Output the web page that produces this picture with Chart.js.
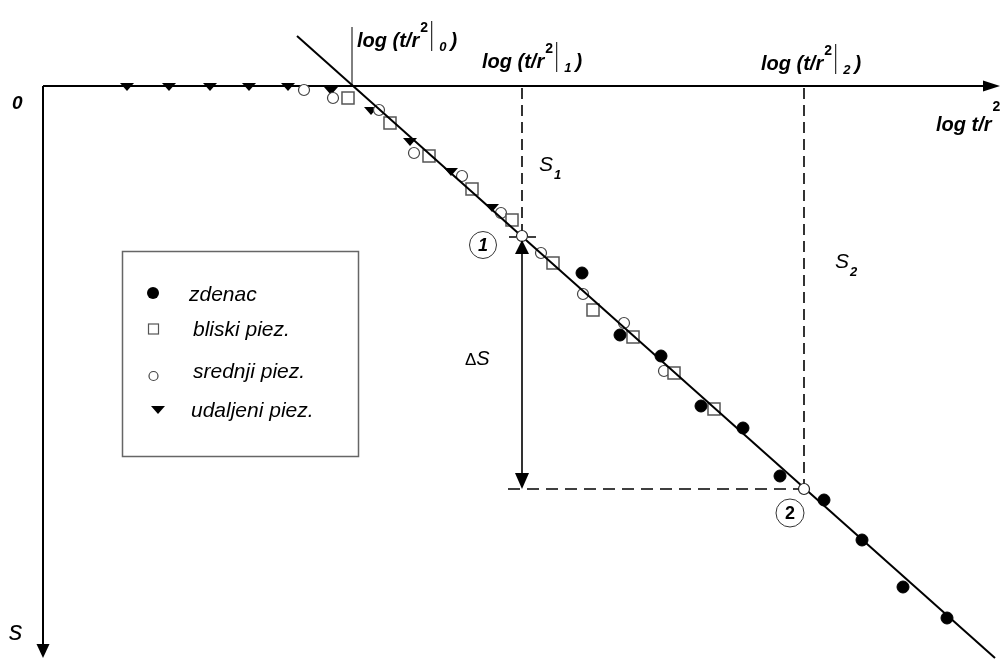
<!DOCTYPE html>
<html><head><meta charset="utf-8">
<script src="https://cdn.jsdelivr.net/npm/chart.js@4"></script>
<style>html,body{margin:0;padding:0;background:#fff;}canvas{display:block}</style>
</head><body>
<canvas id="c" width="1007" height="659"></canvas>
<script>
// ---- data (x = log t/r^2, s = drawdown; arbitrary schematic units) ----
const zdenacX   = [5.39, 5.77, 6.18, 6.58, 7.00, 7.37, 7.81, 8.19, 8.60, 9.04];
const zdenacS   = [1.87, 2.49, 2.70, 3.20, 3.42, 3.90, 4.14, 4.54, 5.01, 5.32];
const bliskiX   = [3.05, 3.47, 3.86, 4.29, 4.69, 5.10, 5.50, 5.90, 6.31, 6.71];
const bliskiS   = [0.12, 0.37, 0.70, 1.03, 1.34, 1.77, 2.24, 2.51, 2.87, 3.23];
const srednjiX  = [2.61, 2.90, 3.36, 3.71, 4.19, 4.58, 4.98, 5.40, 5.81, 6.21];
const srednjiS  = [0.04, 0.12, 0.24, 0.67, 0.90, 1.27, 1.67, 2.08, 2.37, 2.85];
const udaljeniX = [0.84, 1.26, 1.67, 2.06, 2.45, 2.88, 3.28, 3.67, 4.08, 4.49];
const udaljeniS = [0.01, 0.01, 0.01, 0.01, 0.01, 0.05, 0.25, 0.56, 0.86, 1.22];
const seriesNames = ['zdenac', 'bliski piez.', 'srednji piez.', 'udaljeni piez.'];
const fitX = [2.54, 9.52];           // straight-line fit ends
const fitS = [-0.50, 5.72];
const keyX = [3.09, 4.79, 7.61];     // log(t/r2|0), |1, |2
const keyS = [0.00, 1.50, 4.03];     // s at those points
const axisX = [0, 9.57];
const axisS = [0, 5.72];

const FONT = '"Liberation Sans", Arial, sans-serif';
const pts = (xs, ys) => xs.map((x, i) => ({x, y: ys[i]}));

function triMarker(w, h) {
  const c = document.createElement('canvas'); c.width = w; c.height = h;
  const g = c.getContext('2d'); g.fillStyle = '#000';
  g.beginPath(); g.moveTo(0, 0); g.lineTo(w, 0); g.lineTo(w / 2, h); g.closePath(); g.fill();
  return c;
}
const tri = triMarker(14, 8);

const lineDs = (data, dash, width, order) => ({
  type: 'scatter', data, showLine: true, pointRadius: 0, borderColor: '#000',
  borderWidth: width, borderDash: dash, order, clip: false, fill: false
});

const datasets = [
  {label: 'key', data: [{x: keyX[1], y: keyS[1]}, {x: keyX[2], y: keyS[2]}], pointStyle: 'circle',
   pointRadius: 5.5, backgroundColor: '#fff', borderColor: '#222', borderWidth: 1.2, order: -2, clip: false},
  lineDs(pts(fitX, fitS), [], 2, -1),
  {label: seriesNames[0], data: pts(zdenacX, zdenacS), pointStyle: 'circle', pointRadius: 6,
   backgroundColor: '#000', borderColor: '#000', borderWidth: 1, order: 1, clip: false},
  {label: seriesNames[1], data: pts(bliskiX, bliskiS), pointStyle: 'rect', pointRadius: 8.5,
   backgroundColor: '#fff', borderColor: '#555', borderWidth: 1.5, order: 2, clip: false},
  {label: seriesNames[2], data: pts(srednjiX, srednjiS), pointStyle: 'circle', pointRadius: 5.5,
   backgroundColor: '#fff', borderColor: '#444', borderWidth: 1.2, order: 3, clip: false},
  {label: seriesNames[3], data: pts(udaljeniX, udaljeniS), pointStyle: tri, pointRadius: 6,
   order: 4, clip: false},
  // axes
  lineDs([{x: axisX[0], y: 0}, {x: axisX[1] - 0.15, y: 0}], [], 2, 6),
  lineDs([{x: 0, y: axisS[0]}, {x: 0, y: axisS[1] - 0.12}], [], 2, 6),
  // construction lines
  lineDs([{x: keyX[0], y: 0}, {x: keyX[0], y: -0.59}], [], 1, 6),
  lineDs([{x: keyX[1], y: 0.02}, {x: keyX[1], y: keyS[1]}], [11, 6], 1.6, 6),
  lineDs([{x: keyX[2], y: 0.02}, {x: keyX[2], y: keyS[2]}], [11, 6], 1.6, 6),
  lineDs([{x: 4.65, y: keyS[2]}, {x: keyX[2], y: keyS[2]}], [12, 7], 1.6, 6),
  lineDs([{x: keyX[1], y: keyS[1] + 0.15}, {x: keyX[1], y: keyS[2] - 0.12}], [], 1.6, 6)
];

function txt(ctx, s, x, y, font, align) {
  ctx.font = font; ctx.textAlign = align || 'left'; ctx.textBaseline = 'alphabetic';
  ctx.fillText(s, x, y); return ctx.measureText(s).width;
}
function tri2(ctx, x1, y1, x2, y2, x3, y3) {
  ctx.beginPath(); ctx.moveTo(x1, y1); ctx.lineTo(x2, y2); ctx.lineTo(x3, y3); ctx.closePath(); ctx.fill();
}
function logLabel(ctx, x, base, sub) {
  const F = 'bold italic 20px ' + FONT;
  x += txt(ctx, 'log (t/r', x, base, F) + 1;
  txt(ctx, '2', x, base - 15, 'bold 14px ' + FONT);
  x += 11;
  ctx.lineWidth = 1; ctx.beginPath(); ctx.moveTo(x + 0.5, base - 26); ctx.lineTo(x + 0.5, base + 4); ctx.stroke();
  x += 8;
  x += txt(ctx, sub, x, base + 4, 'bold italic 13px ' + FONT) + 4;
  txt(ctx, ')', x, base, F);
}

const deco = {
  id: 'deco',
  afterDatasetsDraw(chart) {
    const ctx = chart.ctx, X = chart.scales.x, Y = chart.scales.y;
    const px = v => X.getPixelForValue(v), py = v => Y.getPixelForValue(v);
    ctx.save();
    ctx.fillStyle = '#000'; ctx.strokeStyle = '#000';
    // axis arrowheads
    const ax = px(axisX[1]), ay = py(0);
    tri2(ctx, ax, ay, ax - 17, ay - 5.5, ax - 17, ay + 5.5);
    const bx = px(0), by = py(axisS[1]);
    tri2(ctx, bx, by, bx - 6.5, by - 14, bx + 6.5, by - 14);
    // delta-s arrow heads
    const dx = px(keyX[1]), t1 = py(keyS[1]) + 4, t2 = py(keyS[2]);
    tri2(ctx, dx, t1, dx - 7, t1 + 14, dx + 7, t1 + 14);
    tri2(ctx, dx, t2, dx - 7, t2 - 16, dx + 7, t2 - 16);
    // crosshair at point 1
    ctx.lineWidth = 1.5;
    ctx.beginPath(); ctx.moveTo(dx - 13, py(keyS[1]) + 1); ctx.lineTo(dx - 6, py(keyS[1]) + 1);
    ctx.moveTo(dx + 6, py(keyS[1]) + 1); ctx.lineTo(dx + 14, py(keyS[1]) + 1); ctx.stroke();

    // axis labels
    txt(ctx, '0', 12, 109, 'bold italic 19px ' + FONT);
    txt(ctx, 's', 9, 640, 'italic 27px ' + FONT);
    let w = txt(ctx, 'log t/r', 936, 131, 'bold italic 20px ' + FONT);
    txt(ctx, '2', 936 + w + 1, 111, 'bold 14px ' + FONT);
    logLabel(ctx, px(keyX[0]) + 5, 47, '0');
    logLabel(ctx, px(keyX[1]) - 40, 68, '1');
    logLabel(ctx, px(keyX[2]) - 43, 70, '2');
    // S1, S2, delta S
    w = txt(ctx, 'S', 539, 171, 'italic 21px ' + FONT);
    txt(ctx, '1', 539 + w + 1, 179, 'bold italic 13px ' + FONT);
    w = txt(ctx, 'S', 835, 268, 'italic 21px ' + FONT);
    txt(ctx, '2', 835 + w + 1, 276, 'bold italic 13px ' + FONT);
    w = txt(ctx, '\u0394', 465, 365, '17px ' + FONT);
    txt(ctx, 'S', 465 + w, 365, 'italic 20px ' + FONT);
    // numbered circles
    ctx.lineWidth = 1; ctx.strokeStyle = '#333';
    ctx.beginPath(); ctx.arc(483, 245, 13.5, 0, Math.PI * 2); ctx.stroke();
    txt(ctx, '1', 483, 251, 'bold italic 18px ' + FONT, 'center');
    ctx.beginPath(); ctx.arc(790, 513, 14, 0, Math.PI * 2); ctx.stroke();
    txt(ctx, '2', 790, 519, 'bold 18px ' + FONT, 'center');

    // legend box
    ctx.strokeStyle = '#666'; ctx.lineWidth = 1.5;
    ctx.strokeRect(122.5, 251.5, 236, 205);
    const LF = 'italic 21px ' + FONT;
    const ly = [293, 329, 376, 411], lb = [301, 336, 378, 417], lx = [189, 193, 193, 191];
    ctx.fillStyle = '#000';
    ctx.beginPath(); ctx.arc(153, ly[0], 6, 0, Math.PI * 2); ctx.fill();
    ctx.strokeStyle = '#555'; ctx.lineWidth = 1.2;
    ctx.strokeRect(148.5, ly[1] - 5, 10, 10);
    ctx.strokeStyle = '#444';
    ctx.beginPath(); ctx.arc(153.5, ly[2], 4.5, 0, Math.PI * 2); ctx.stroke();
    ctx.drawImage(tri, 151, ly[3] - 5);
    seriesNames.forEach((n, i) => txt(ctx, n, lx[i], lb[i], LF));
    ctx.restore();
  }
};

new Chart(document.getElementById('c'), {
  type: 'scatter',
  data: {datasets},
  options: {
    responsive: false, animation: false, events: [],
    layout: {padding: 0, autoPadding: false},
    plugins: {legend: {display: false}, tooltip: {enabled: false}, title: {display: false}},
    scales: {
      x: {type: 'linear', min: -0.43, max: 9.64, display: false},
      y: {type: 'linear', reverse: true, min: -0.86, max: 5.73, display: false}
    }
  },
  plugins: [deco]
});
</script>
</body></html>
